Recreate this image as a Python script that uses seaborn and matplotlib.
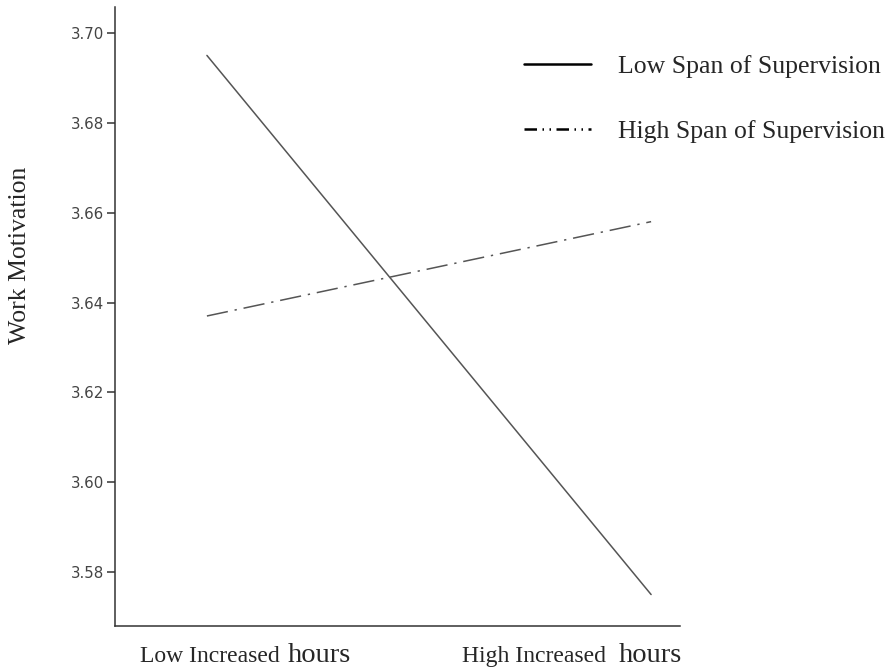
import numpy as np
import pandas as pd
import matplotlib
matplotlib.use("Agg")
import matplotlib.pyplot as plt
from matplotlib.lines import Line2D
import seaborn as sns

# values
hours_levels = ["Low Increased hours", "High Increased hours"]
span_levels = ["Low Span of Supervision", "High Span of Supervision"]
low_span = [3.695, 3.575]
high_span = [3.637, 3.658]
y_ticks = [3.58, 3.60, 3.62, 3.64, 3.66, 3.68, 3.70]

df = pd.DataFrame({
    "hours": hours_levels * 2,
    "span": [span_levels[0]] * 2 + [span_levels[1]] * 2,
    "motivation": low_span + high_span,
})

sns.set_style("ticks")
plt.rcParams["font.family"] = ["DejaVu Sans"]

fig = plt.figure(figsize=(8.94, 6.70), dpi=100)
ax = fig.add_axes([0.1286, 0.0657, 0.632, 0.924])

line_col = "#555555"
sns.lineplot(data=df, x="hours", y="motivation", hue="span", style="span",
             palette={span_levels[0]: line_col, span_levels[1]: line_col},
             dashes={span_levels[0]: "", span_levels[1]: (14, 4.5, 1.5, 4.5)},
             linewidth=1.1, legend=False, sort=False, ax=ax)

ax.set_xlim(-0.207, 1.065)
ax.set_ylim(3.568, 3.7058)
ax.set_yticks(y_ticks)
ax.set_yticklabels([f"{v:.2f}" for v in y_ticks])
ax.set_xticks([])
ax.set_xlabel("")
ax.set_ylabel("")
ax.tick_params(axis="y", length=6, width=1.1, color="#333333",
               labelsize=10.8, labelcolor="#444444", pad=1.5)
for s in ["top", "right"]:
    ax.spines[s].set_visible(False)
for s in ["left", "bottom"]:
    ax.spines[s].set_color("#333333")
    ax.spines[s].set_linewidth(1.1)

serif = ["Liberation Serif", "DejaVu Serif"]

# y label
fig.text(20 / 894, 1 - 255 / 670, "Work Motivation", rotation=90,
         ha="center", va="center", fontsize=18.5, family=serif)

# x category labels (smaller first words, larger "hours")
base_y = 1 - 662 / 670
fig.text(140 / 894, base_y, "Low Increased", fontsize=17, family=serif,
         ha="left", va="baseline")
fig.text(288 / 894, base_y, "hours", fontsize=20.5, family=serif,
         ha="left", va="baseline")
fig.text(462 / 894, base_y, "High Increased", fontsize=17, family=serif,
         ha="left", va="baseline")
fig.text(619 / 894, base_y, "hours", fontsize=20.5, family=serif,
         ha="left", va="baseline")

# legend
handles = [
    Line2D([], [], color="black", linewidth=1.8),
    Line2D([], [], color="black", linewidth=1.8,
           dashes=(5, 2.2, 0.6, 2.2, 0.6, 2.2)),
]
fig.legend(handles, span_levels, loc="upper left",
           bbox_to_anchor=(524 / 894, 1 - 55 / 670), frameon=False,
           prop={"family": serif, "size": 18.5}, handlelength=2.6,
           handletextpad=1.05, labelspacing=1.62, borderpad=0,
           borderaxespad=0)

fig.savefig("out.png", dpi=100)
